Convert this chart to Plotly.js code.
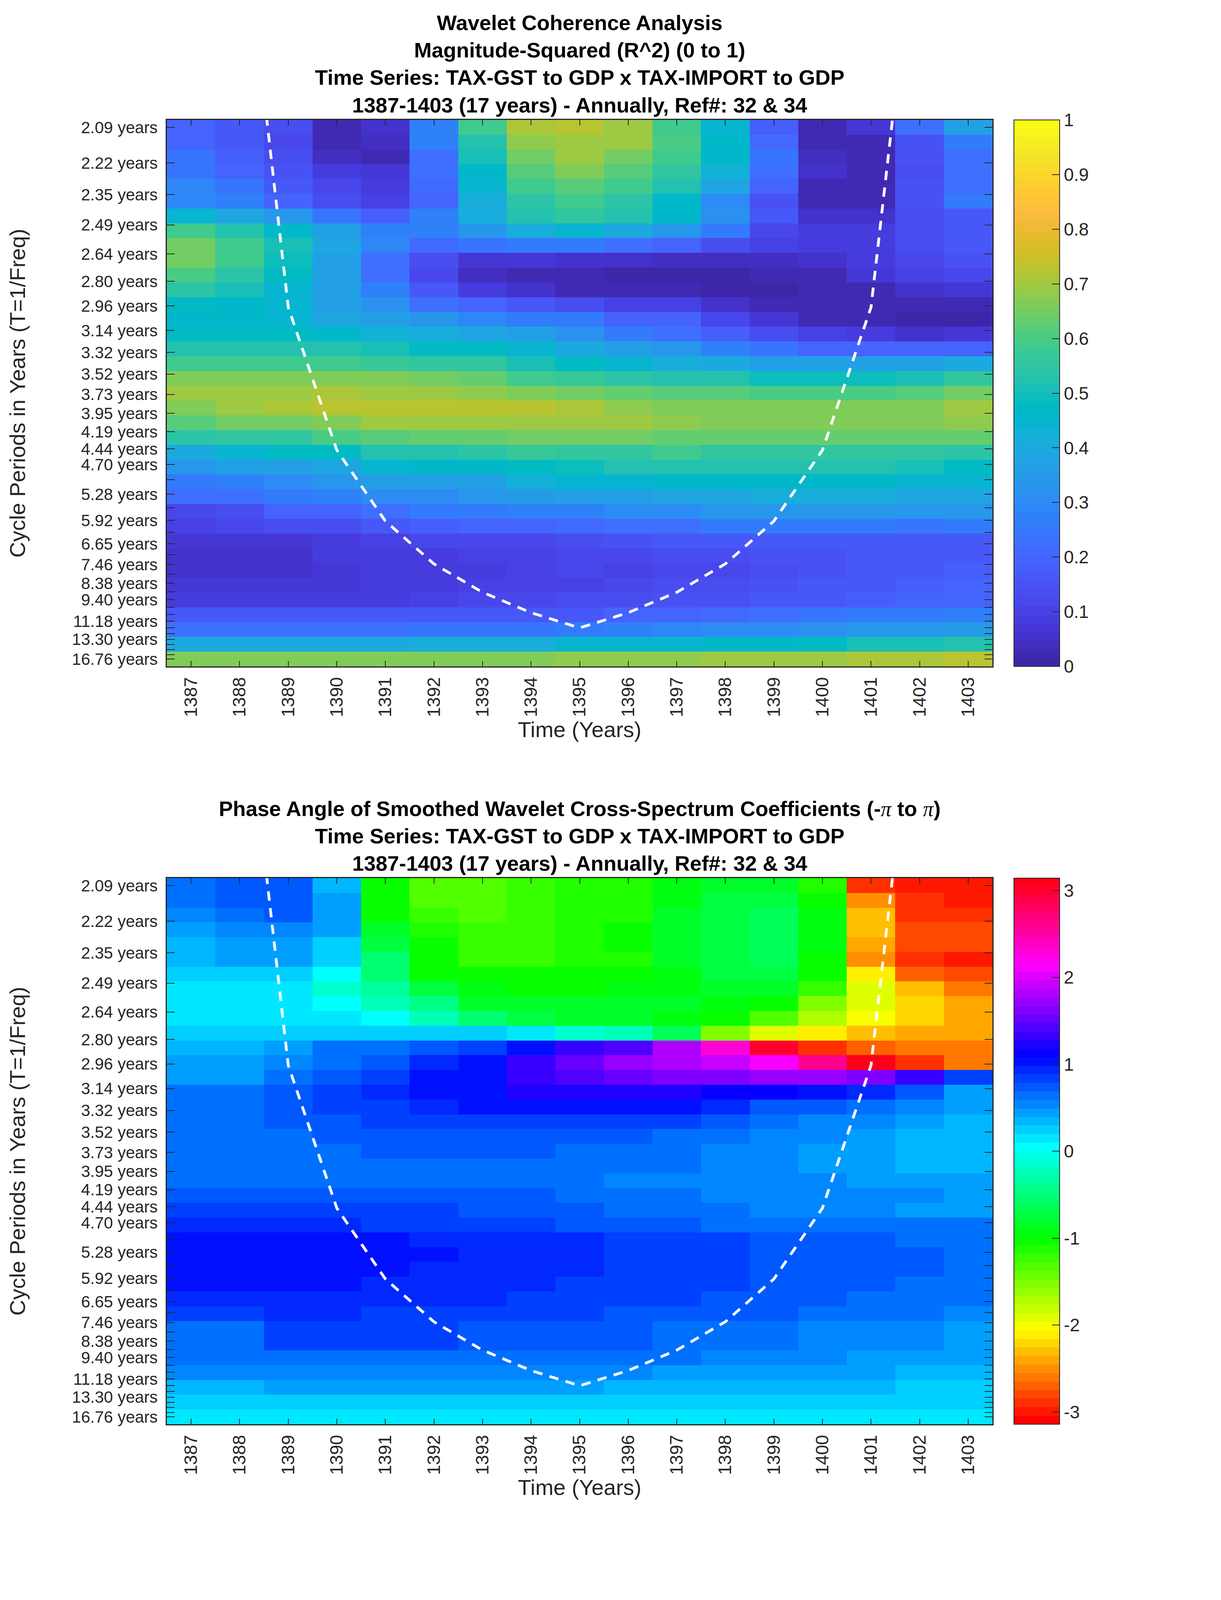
<!DOCTYPE html>
<html>
<head>
<meta charset="utf-8">
<script src="https://cdn.plot.ly/plotly-3.0.1.min.js"></script>
<style>html,body{margin:0;padding:0;background:#fff;overflow:hidden}</style>
</head>
<body>
<div id="chart" style="width:3125px;height:4096px"></div>
<script>
const years = [1387,1388,1389,1390,1391,1392,1393,1394,1395,1396,1397,1398,1399,1400,1401,1402,1403];
const periods = [2.09,2.22,2.35,2.49,2.64,2.80,2.96,3.14,3.32,3.52,3.73,3.95,4.19,4.44,4.70,4.98,5.28,5.59,5.92,6.28,6.65,7.05,7.46,7.90,8.38,8.88,9.40,9.96,10.55,11.18,11.85,12.55,13.30,14.09,14.93,15.82,16.76];
const hiddenLabels = [4.98,5.59,6.28,7.05,7.90,8.88,9.96,10.55,11.85,12.55,14.09,14.93,15.82];

const coherenceTicks = [0,.1,.2,.3,.4,.5,.6,.7,.8,.9,1];
const coherenceLabels = ['0','0.1','0.2','0.3','0.4','0.5','0.6','0.7','0.8','0.9','1'];
const phaseTicks = [-3,-2,-1,0,1,2,3];
const phaseLabels = ['-3','-2','-1','0','1','2','3'];

// cone of influence, years 1388..1402
const coiYears = [1388,1389,1390,1391,1392,1393,1394,1395,1396,1397,1398,1399,1400,1401,1402];
const coiPeriods = [1.49,2.97,4.46,5.94,7.43,8.91,10.40,11.88,10.40,8.91,7.43,5.94,4.46,2.97,1.49];

const coherence = [
[.20,.16,.13,.03,.06,.27,.58,.705,.725,.70,.59,.45,.18,.03,.075,.22,.36],
[.20,.16,.12,.03,.045,.27,.52,.68,.70,.69,.60,.46,.21,.03,.03,.15,.26],
[.24,.18,.13,.045,.03,.22,.51,.65,.70,.65,.58,.46,.24,.045,.03,.15,.23],
[.24,.20,.15,.09,.075,.22,.46,.61,.66,.61,.55,.43,.23,.06,.03,.13,.23],
[.29,.24,.17,.11,.09,.21,.44,.58,.61,.58,.52,.38,.20,.03,.03,.15,.23],
[.29,.27,.19,.13,.10,.20,.42,.54,.58,.54,.46,.30,.15,.03,.03,.15,.26],
[.45,.38,.33,.24,.18,.28,.42,.53,.56,.52,.46,.32,.17,.06,.06,.13,.17],
[.58,.53,.46,.36,.28,.28,.33,.42,.45,.40,.34,.25,.12,.09,.09,.13,.17],
[.65,.58,.50,.38,.29,.21,.24,.25,.26,.23,.19,.13,.10,.09,.09,.13,.17],
[.65,.58,.49,.36,.23,.13,.075,.075,.06,.06,.045,.045,.045,.06,.09,.12,.15],
[.60,.54,.47,.36,.23,.12,.045,.025,.02,.012,.012,.012,.02,.03,.075,.10,.12],
[.54,.51,.45,.37,.27,.17,.09,.06,.025,.025,.02,.012,.012,.02,.03,.06,.075],
[.47,.46,.44,.37,.32,.23,.19,.16,.14,.10,.10,.06,.025,.02,.02,.02,.02],
[.46,.46,.44,.38,.37,.33,.29,.25,.25,.20,.19,.11,.075,.03,.03,.012,.012],
[.48,.48,.48,.46,.43,.41,.38,.36,.32,.26,.23,.18,.14,.10,.09,.06,.075],
[.53,.53,.53,.53,.50,.47,.47,.45,.40,.36,.33,.28,.24,.19,.19,.19,.19],
[.59,.59,.59,.59,.57,.56,.56,.51,.47,.45,.41,.40,.37,.37,.37,.37,.40],
[.67,.67,.67,.67,.67,.65,.63,.59,.57,.54,.53,.52,.49,.49,.49,.51,.55],
[.70,.70,.70,.71,.70,.70,.68,.67,.65,.64,.61,.61,.60,.60,.60,.61,.65],
[.67,.70,.71,.72,.72,.72,.72,.72,.705,.68,.67,.67,.67,.67,.67,.67,.69],
[.61,.65,.65,.67,.70,.70,.70,.70,.70,.69,.68,.66,.66,.66,.66,.66,.68],
[.54,.56,.56,.60,.61,.64,.64,.65,.65,.65,.63,.63,.63,.63,.63,.63,.63],
[.40,.44,.47,.47,.52,.53,.54,.57,.56,.56,.58,.56,.56,.56,.56,.55,.54],
[.33,.36,.37,.38,.44,.46,.46,.47,.49,.52,.52,.52,.52,.52,.52,.50,.47],
[.25,.28,.30,.33,.37,.37,.37,.43,.44,.45,.46,.46,.46,.46,.46,.45,.45],
[.22,.22,.26,.27,.31,.31,.33,.35,.36,.37,.39,.39,.41,.41,.41,.39,.39],
[.12,.14,.19,.20,.22,.25,.25,.28,.28,.30,.30,.33,.33,.33,.33,.33,.33],
[.10,.11,.14,.14,.17,.18,.20,.20,.21,.23,.23,.26,.26,.26,.25,.24,.26],
[.075,.075,.075,.09,.10,.11,.11,.12,.13,.15,.17,.17,.17,.17,.17,.17,.17],
[.06,.06,.06,.09,.09,.09,.10,.10,.11,.11,.13,.13,.15,.15,.17,.17,.17],
[.06,.06,.06,.075,.09,.09,.09,.10,.11,.10,.12,.12,.14,.15,.17,.17,.18],
[.075,.075,.075,.075,.09,.09,.10,.10,.10,.12,.13,.13,.15,.16,.17,.18,.19],
[.09,.09,.09,.09,.09,.10,.11,.12,.13,.13,.15,.15,.16,.17,.18,.20,.20],
[.16,.16,.16,.16,.16,.16,.16,.17,.17,.19,.20,.21,.23,.24,.25,.25,.27],
[.23,.23,.23,.23,.23,.24,.24,.24,.25,.28,.29,.30,.31,.32,.33,.33,.35],
[.40,.40,.40,.40,.40,.41,.41,.42,.44,.44,.45,.46,.46,.47,.50,.50,.53],
[.66,.66,.66,.66,.66,.66,.66,.66,.68,.68,.68,.695,.695,.695,.71,.71,.725]
];

const phase = [
[.65,.75,.75,.35,-1.05,-1.37,-1.37,-1.27,-1.17,-1.08,-.92,-.80,-.80,-1.17,-2.90,-2.95,-3.0],
[.65,.75,.75,.42,-1.05,-1.35,-1.35,-1.24,-1.15,-1.10,-.92,-.78,-.78,-1.05,-2.55,-2.85,-2.95],
[.55,.65,.75,.45,-1.0,-1.25,-1.35,-1.20,-1.15,-1.08,-.85,-.78,-.65,-.92,-2.33,-2.85,-2.85],
[.48,.55,.55,.42,-.80,-1.10,-1.25,-1.20,-1.13,-1.07,-.85,-.78,-.65,-.95,-2.33,-2.75,-2.83],
[.38,.42,.42,.20,-.72,-1.05,-1.20,-1.20,-1.13,-1.05,-.85,-.75,-.65,-.95,-2.45,-2.75,-2.83],
[.38,.42,.42,.20,-.55,-1.05,-1.22,-1.22,-1.15,-1.10,-.85,-.75,-.65,-1.07,-2.55,-2.88,-2.98],
[.20,.20,.20,.02,-.55,-1.0,-1.05,-1.05,-1.05,-1.05,-.90,-.78,-.72,-1.05,-2.15,-2.70,-2.80],
[.10,.10,.10,-.12,-.35,-.75,-.95,-1.03,-1.03,-.95,-.90,-.85,-.85,-1.22,-1.95,-2.35,-2.60],
[.10,.10,.10,0,-.2,-.42,-.8,-.88,-.88,-.88,-.88,-.9,-1.05,-1.48,-1.95,-2.25,-2.45],
[.10,.10,.10,.10,0,-.22,-.58,-.75,-.80,-.80,-.92,-1.05,-1.35,-1.75,-2.05,-2.25,-2.45],
[.20,.20,.28,.28,.28,.28,.20,.10,-.10,-.25,-.68,-1.50,-1.95,-2.13,-2.28,-2.36,-2.45],
[.30,.30,.42,.60,.68,.75,.82,1.0,1.28,1.44,1.85,2.33,3.0,-2.88,-2.7,-2.6,-2.6],
[.40,.40,.52,.65,.72,.90,1.05,1.3,1.55,1.72,1.78,1.96,2.09,2.6,3.05,-2.88,-2.65],
[.48,.48,.62,.78,.82,1.02,1.05,1.3,1.42,1.5,1.58,1.58,1.68,1.68,1.58,1.35,.8],
[.62,.62,.70,.85,.95,1.05,1.05,1.18,1.18,1.25,1.25,1.12,1.12,1.0,.95,.7,.48],
[.65,.65,.72,.82,.82,.95,1.0,1.0,1.02,1.02,1.02,.95,.78,.72,.65,.55,.42],
[.65,.65,.72,.72,.82,.82,.82,.82,.82,.82,.82,.72,.62,.52,.55,.45,.32],
[.65,.65,.65,.72,.72,.72,.72,.72,.72,.72,.65,.65,.55,.55,.48,.32,.32],
[.62,.62,.62,.60,.70,.70,.70,.70,.60,.60,.60,.52,.52,.42,.42,.32,.32],
[.62,.62,.62,.68,.68,.68,.68,.68,.62,.60,.60,.50,.50,.42,.42,.38,.32],
[.68,.68,.68,.68,.68,.68,.68,.68,.68,.58,.58,.58,.52,.52,.42,.42,.42],
[.75,.75,.75,.75,.75,.75,.75,.75,.68,.65,.65,.58,.58,.52,.52,.52,.42],
[.80,.80,.80,.80,.80,.80,.75,.75,.75,.65,.65,.65,.55,.55,.55,.45,.45],
[.95,.95,.95,.95,.85,.85,.85,.85,.78,.75,.75,.68,.68,.62,.62,.62,.62],
[1.02,1.0,1.0,1.0,1.0,.9,.9,.9,.9,.82,.82,.82,.72,.72,.72,.62,.62],
[1.02,1.02,1.0,1.0,1.0,1.0,.9,.9,.9,.82,.82,.82,.72,.72,.72,.72,.62],
[1.02,1.0,1.0,1.0,1.0,.9,.9,.9,.9,.82,.82,.82,.72,.72,.72,.72,.62],
[1.0,1.0,1.0,1.0,.9,.9,.9,.9,.85,.82,.82,.82,.72,.72,.72,.62,.62],
[.9,.9,.9,.9,.9,.9,.9,.82,.82,.82,.82,.75,.75,.75,.65,.65,.65],
[.82,.82,.9,.9,.82,.82,.82,.82,.82,.75,.75,.75,.75,.65,.65,.65,.55],
[.68,.68,.82,.82,.82,.82,.72,.72,.72,.72,.65,.65,.65,.52,.52,.52,.42],
[.68,.68,.82,.82,.82,.82,.72,.72,.72,.72,.65,.65,.65,.52,.52,.52,.42],
[.62,.62,.68,.68,.68,.68,.68,.62,.62,.62,.62,.5,.5,.5,.42,.42,.42],
[.52,.52,.52,.52,.52,.52,.52,.52,.52,.52,.42,.42,.42,.42,.42,.32,.32],
[.32,.32,.42,.42,.42,.42,.42,.42,.42,.32,.32,.32,.32,.32,.32,.2,.2],
[.2,.2,.2,.2,.2,.2,.2,.2,.2,.2,.2,.2,.2,.2,.2,.2,.2],
[.1,.1,.1,.1,.1,.1,.1,.1,.1,.1,.1,.1,.1,.1,.1,.1,.1]
];

const parula64 = [
[.2422,.1504,.6603],[.2504,.1650,.7076],[.2578,.1818,.7511],[.2647,.1978,.7952],[.2706,.2147,.8364],[.2751,.2342,.8710],[.2783,.2559,.8991],[.2803,.2782,.9221],
[.2813,.3006,.9414],[.2810,.3228,.9579],[.2795,.3447,.9717],[.2760,.3667,.9829],[.2699,.3892,.9906],[.2602,.4123,.9952],[.2440,.4358,.9988],[.2206,.4603,.9973],
[.1963,.4847,.9892],[.1834,.5074,.9798],[.1786,.5289,.9682],[.1764,.5499,.9520],[.1687,.5703,.9359],[.1540,.5902,.9218],[.1460,.6091,.9079],[.1380,.6276,.8973],
[.1248,.6459,.8883],[.1113,.6635,.8763],[.0952,.6798,.8598],[.0689,.6948,.8394],[.0297,.7082,.8163],[.0036,.7203,.7917],[.0067,.7312,.7660],[.0433,.7411,.7394],
[.0964,.7500,.7120],[.1408,.7584,.6842],[.1717,.7670,.6554],[.1938,.7758,.6251],[.2161,.7843,.5923],[.2470,.7918,.5567],[.2906,.7973,.5188],[.3406,.8008,.4789],
[.3909,.8029,.4354],[.4456,.8024,.3909],[.5044,.7993,.3480],[.5616,.7942,.3045],[.6174,.7876,.2612],[.6720,.7793,.2227],[.7242,.7698,.1910],[.7738,.7598,.1646],
[.8203,.7498,.1535],[.8634,.7406,.1596],[.9035,.7330,.1774],[.9393,.7288,.2100],[.9728,.7298,.2394],[.9956,.7434,.2371],[.9970,.7659,.2199],[.9952,.7893,.2028],
[.9892,.8136,.1885],[.9786,.8386,.1766],[.9676,.8639,.1643],[.9610,.8890,.1537],[.9597,.9135,.1423],[.9628,.9373,.1265],[.9691,.9606,.1064],[.9769,.9839,.0805]
];

function rgb(c) {
  return 'rgb(' + c.map(v => Math.round(v * 255)).join(',') + ')';
}

function stepped(colors) {
  const out = [];
  colors.forEach((c, i) => {
    out.push([i / colors.length, rgb(c)]);
    out.push([(i + 1) / colors.length, rgb(c)]);
  });
  return out;
}

function hsv64() {
  const out = [];
  for (let i = 0; i < 64; i++) {
    const h = i / 64 * 6;
    const f = h - Math.floor(h);
    const table = [[1, f, 0], [1 - f, 1, 0], [0, 1, f], [0, 1 - f, 1], [f, 0, 1], [1, 0, 1 - f]];
    out.push(table[Math.floor(h)]);
  }
  return out;
}

// the window really is 4096 tall, so the vertical layout is squeezed to fit
const W = 3125, H = 4096;
const axLeft = 427, axRight = 2540;
const top1 = 307, bottom1 = 1706, top2 = 2248, bottom2 = 3646;
const cbLeft = 2595, cbWidth = 117;
const textColor = '#262626';
const font = 'Liberation Sans, Arial, sans-serif';

const freqs = periods.map(p => 1 / p);
const step = (freqs[0] - freqs[freqs.length - 1]) / (freqs.length - 1);
const rowY = freqs.map((f, i) => freqs[0] - i * step);
const yRange = [freqs[freqs.length - 1] - step / 2, freqs[0] + step / 2];
const yText = periods.map(p => hiddenLabels.includes(p) ? '' : p.toFixed(2) + ' years');

function heat(z, cs, zmin, zmax, xa, ya, top, bottom, ticks, labels) {
  return {
    type: 'heatmap', x: years, y: rowY, z: z, xaxis: xa, yaxis: ya,
    colorscale: cs, zmin: zmin, zmax: zmax, zsmooth: false, hoverinfo: 'skip',
    colorbar: {
      x: cbLeft / W, xanchor: 'left', thickness: cbWidth, thicknessmode: 'pixels',
      y: 1 - bottom / H, yanchor: 'bottom', len: (bottom - top) / H, lenmode: 'fraction',
      xpad: 0, ypad: 0, outlinecolor: textColor, outlinewidth: 2,
      tickmode: 'array', tickvals: ticks, ticktext: labels, ticks: 'inside', ticklen: 20, tickwidth: 2, tickcolor: textColor,
      tickfont: { family: font, size: 46, color: textColor }
    }
  };
}

function coi(xa, ya) {
  return {
    type: 'scatter', mode: 'lines', x: coiYears, y: coiPeriods.map(p => 1 / p), xaxis: xa, yaxis: ya,
    line: { color: '#ffffff', width: 7, dash: '24px,19px' }, hoverinfo: 'skip', showlegend: false
  };
}

function xAxis(anchor) {
  return {
    domain: [axLeft / W, axRight / W], anchor: anchor, range: [1386.5, 1403.5],
    tickmode: 'array', tickvals: years, ticktext: years.map(String), tickangle: -90,
    ticks: 'inside', ticklen: 14, tickwidth: 2, tickcolor: textColor, mirror: 'ticks',
    showline: true, linecolor: textColor, linewidth: 3, showgrid: false, zeroline: false,
    tickfont: { family: font, size: 46, color: textColor }, ticklabelstandoff: 6,
    title: { text: 'Time (Years)', font: { family: font, size: 56, color: textColor }, standoff: 10 }
  };
}

function yAxis(top, bottom, anchor) {
  return {
    domain: [1 - bottom / H, 1 - top / H], anchor: anchor, range: yRange,
    tickmode: 'array', tickvals: freqs, ticktext: yText,
    ticks: 'inside', ticklen: 20, tickwidth: 2, tickcolor: textColor, mirror: 'ticks',
    showline: true, linecolor: textColor, linewidth: 3, showgrid: false, zeroline: false,
    tickfont: { family: font, size: 42, color: textColor }, ticklabelstandoff: 12,
    title: { text: 'Cycle Periods in Years (T=1/Freq)', font: { family: font, size: 56, color: textColor }, standoff: 102 }
  };
}

const pi = '<span style="font-family:\'Liberation Serif\';font-style:italic;font-weight:normal">π</span>';
const title1 = 'Wavelet Coherence Analysis<br>Magnitude-Squared (R^2) (0 to 1)<br>Time Series: TAX-GST to GDP x TAX-IMPORT to GDP<br>1387-1403 (17 years) - Annually, Ref#: 32 &amp; 34';
const title2 = 'Phase Angle of Smoothed Wavelet Cross-Spectrum Coefficients (-' + pi + ' to ' + pi + ')<br>Time Series: TAX-GST to GDP x TAX-IMPORT to GDP<br>1387-1403 (17 years) - Annually, Ref#: 32 &amp; 34';

function titleNote(text, top) {
  return {
    text: text, xref: 'paper', yref: 'paper', x: (axLeft + axRight) / 2 / W, y: 1 - (top - 6) / H,
    xanchor: 'center', yanchor: 'bottom', showarrow: false, align: 'center',
    font: { family: font, size: 54, color: '#000000', weight: 'bold' }
  };
}

const traces = [
  heat(coherence, stepped(parula64), 0, 1, 'x', 'y', top1, bottom1, coherenceTicks, coherenceLabels),
  coi('x', 'y'),
  heat(phase, stepped(hsv64()), -Math.PI, Math.PI, 'x2', 'y2', top2, bottom2, phaseTicks, phaseLabels),
  coi('x2', 'y2')
];

const layout = {
  width: W, height: H, margin: { l: 0, r: 0, t: 0, b: 0 },
  paper_bgcolor: '#ffffff', plot_bgcolor: '#ffffff', showlegend: false,
  xaxis: xAxis('y'), yaxis: yAxis(top1, bottom1, 'x'),
  xaxis2: xAxis('y2'), yaxis2: yAxis(top2, bottom2, 'x2'),
  annotations: [titleNote(title1, top1), titleNote(title2, top2)]
};

Plotly.newPlot('chart', traces, layout, { staticPlot: true, displayModeBar: false });
</script>
</body>
</html>
